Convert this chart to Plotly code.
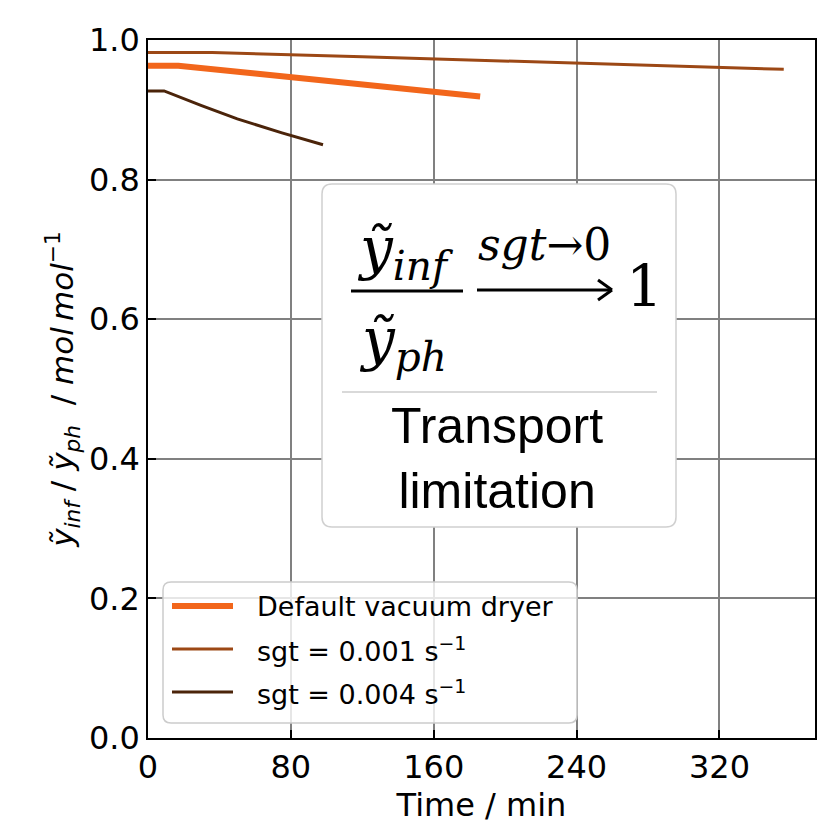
import plotly.graph_objects as go

# ---- data ----
time_default = [0, 17, 60, 120, 186]
ratio_default = [0.963, 0.963, 0.952, 0.936, 0.919]

time_sgt001 = [0, 36, 120, 240, 356]
ratio_sgt001 = [0.982, 0.982, 0.976, 0.967, 0.958]

time_sgt004 = [0, 9, 30, 50, 75, 98]
ratio_sgt004 = [0.927, 0.927, 0.906, 0.887, 0.867, 0.850]

series_names = ["Default vacuum dryer", "sgt = 0.001 s<sup>\u22121</sup>", "sgt = 0.004 s<sup>\u22121</sup>"]
series_colors = ["#F2661B", "#9C4815", "#4B240A"]
series_widths = [6, 3, 3]
x_ticks = [0, 80, 160, 240, 320]
y_ticks = [0.0, 0.2, 0.4, 0.6, 0.8, 1.0]

# ---- layout geometry ----
W, H = 840, 837
L, R, T, B = 148, 25, 40, 99
PW, PH = W - L - R, H - T - B


def px(x):
    return (x - L) / PW


def py(y):
    return (H - B - y) / PH


fig = go.Figure()
for xs, ys, nm, col, wd in [(time_default, ratio_default, series_names[0], series_colors[0], series_widths[0]),
                            (time_sgt001, ratio_sgt001, series_names[1], series_colors[1], series_widths[1]),
                            (time_sgt004, ratio_sgt004, series_names[2], series_colors[2], series_widths[2])]:
    fig.add_trace(go.Scatter(x=xs, y=ys, mode="lines", name=nm, showlegend=False,
                             line=dict(color=col, width=wd)))

tick_font = dict(family="DejaVu Sans", size=32, color="black")

fig.update_layout(
    width=W, height=H,
    margin=dict(l=L, r=R, t=T, b=B),
    paper_bgcolor="white", plot_bgcolor="white",
    showlegend=False,
    xaxis=dict(range=[0, 373.5], tickvals=x_ticks, ticktext=[str(v) for v in x_ticks],
               showgrid=True, gridcolor="#808080", gridwidth=2, zeroline=False,
               showline=True, linecolor="black", linewidth=1.5, mirror=True,
               ticks="inside", ticklen=8, tickwidth=1.5, tickcolor="black",
               tickfont=tick_font,
               title=dict(text="Time / min", font=tick_font, standoff=0)),
    yaxis=dict(range=[0, 1.0], tickvals=y_ticks, ticktext=["%.1f" % v for v in y_ticks],
               showgrid=True, gridcolor="#808080", gridwidth=2, zeroline=False,
               showline=True, linecolor="black", linewidth=1.5, mirror=True,
               ticks="inside", ticklen=8, tickwidth=1.5, tickcolor="black",
               tickfont=tick_font,
               title=dict(text="<i>\u1ef9<sub>inf</sub></i> / <i>\u1ef9<sub>ph</sub></i>\u00a0\u00a0/ <i>mol\u2009mol</i><sup>\u22121</sup>",
                          font=dict(family="DejaVu Sans", size=31, color="black"), standoff=6)),
)


def rounded_rect(bx0, bx1, by0, by1, r, fill, border):
    rx, ry = r / PW, r / PH
    x0, x1, y0, y1 = px(bx0), px(bx1), py(by1), py(by0)
    path = (f"M {x0+rx},{y0} L {x1-rx},{y0} Q {x1},{y0} {x1},{y0+ry} "
            f"L {x1},{y1-ry} Q {x1},{y1} {x1-rx},{y1} "
            f"L {x0+rx},{y1} Q {x0},{y1} {x0},{y1-ry} "
            f"L {x0},{y0+ry} Q {x0},{y0} {x0+rx},{y0} Z")
    fig.add_shape(type="path", path=path, xref="paper", yref="paper",
                  fillcolor=fill, line=dict(color=border, width=1.5), layer="above")


def hline(xa, xb, y, color, width):
    fig.add_shape(type="line", xref="paper", yref="paper", x0=px(xa), x1=px(xb), y0=py(y), y1=py(y),
                  line=dict(color=color, width=width), layer="above")


def ann(text, x, y, font, xanchor="center"):
    fig.add_annotation(text=text, x=px(x), y=py(y), xref="paper", yref="paper",
                       showarrow=False, xanchor=xanchor, yanchor="middle", font=font)


# ---- legend (matplotlib-style box) ----
rounded_rect(163, 577, 582, 723, 8, "rgba(255,255,255,0.8)", "#cccccc")
legend_font = dict(family="DejaVu Sans", size=27, color="black")
for i, row_y in enumerate([606, 649, 692]):
    hline(172, 233, row_y, series_colors[i], 6 if i == 0 else 3)
    ann(series_names[i], 255, row_y, legend_font, xanchor="left")

# ---- annotation box (rounded) ----
rounded_rect(322, 676, 184, 527, 10, "white", "#d0d0d0")

# fraction bar
hline(351, 463, 291, "black", 3)
# arrow shaft + head
hline(477, 612, 290, "black", 3)
fig.add_shape(type="line", xref="paper", yref="paper", x0=px(598), x1=px(612), y0=py(280), y1=py(290),
              line=dict(color="black", width=3), layer="above")
fig.add_shape(type="line", xref="paper", yref="paper", x0=px(598), x1=px(612), y0=py(300), y1=py(290),
              line=dict(color="black", width=3), layer="above")
# separator line
hline(342, 657, 392, "#cccccc", 1.5)

math_font = dict(family="DejaVu Serif", size=58, color="black")
ann("<i>\u1ef9<sub>inf</sub></i>", 405, 252, math_font)
ann("<i>\u1ef9<sub>ph</sub></i>", 403, 343, math_font)
ann("<i>sgt</i>\u21920", 544, 245, dict(family="DejaVu Serif", size=44, color="black"))
ann("1", 644, 286, dict(family="DejaVu Serif", size=58, color="black"))
ann("Transport<br>limitation", 497, 458, dict(family="Liberation Sans", size=50, color="black"))

fig.write_html("out.html")
